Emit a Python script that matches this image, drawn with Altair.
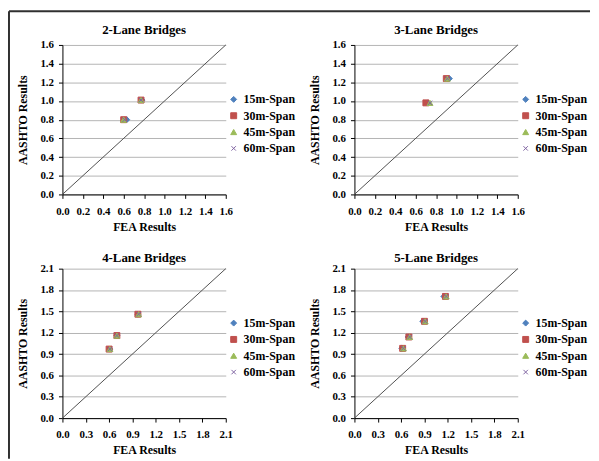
import altair as alt
import pandas as pd

series = ["15m-Span", "30m-Span", "45m-Span", "60m-Span"]
colors = ["#4F81BD", "#C0504D", "#9BBB59", "#8064A2"]
shapes = ["diamond", "square", "triangle-up", "M-0.75,-0.75L0.75,0.75M0.75,-0.75L-0.75,0.75"]

titles = ["2-Lane Bridges", "3-Lane Bridges", "4-Lane Bridges", "5-Lane Bridges"]

ticks_small = [0.0, 0.2, 0.4, 0.6, 0.8, 1.0, 1.2, 1.4, 1.6]
ticks_large = [0.0, 0.3, 0.6, 0.9, 1.2, 1.5, 1.8, 2.1]

# FEA (x) and AASHTO (y) results, per span series
fea_2lane = [[0.63, 0.78], [0.60, 0.77], [0.60, 0.77], [0.61, 0.77]]
aashto_2lane = [[0.80, 1.01], [0.80, 1.01], [0.80, 1.01], [0.80, 1.01]]

fea_3lane = [[0.72, 0.93], [0.70, 0.90], [0.74, 0.91], [0.74, 0.91]]
aashto_3lane = [[0.98, 1.24], [0.98, 1.24], [0.98, 1.24], [0.98, 1.24]]

fea_4lane = [[0.61, 0.70, 0.97], [0.60, 0.70, 0.97], [0.61, 0.70, 0.98], [0.61, 0.70, 0.98]]
aashto_4lane = [[0.97, 1.16, 1.46], [0.97, 1.16, 1.46], [0.97, 1.16, 1.46], [0.97, 1.16, 1.46]]

fea_5lane = [[0.61, 0.69, 0.88, 1.15], [0.62, 0.70, 0.90, 1.17], [0.63, 0.71, 0.91, 1.18], [0.63, 0.71, 0.91, 1.18]]
aashto_5lane = [[0.98, 1.14, 1.36, 1.71], [0.98, 1.14, 1.36, 1.71], [0.98, 1.14, 1.36, 1.71], [0.98, 1.14, 1.36, 1.71]]

FONT = "Liberation Serif"
W, H = 165, 151


def panel(title, fea, aashto, ticks, title_y, frame=False):
    rows = []
    for s, xs, ys in zip(series, fea, aashto):
        for x, y in zip(xs, ys):
            rows.append({"series": s, "fea": x, "aashto": y})
    df = pd.DataFrame(rows)
    maxv = ticks[-1]
    xs = alt.Scale(domain=[0, maxv], nice=False, zero=True)
    ys = alt.Scale(domain=[0, maxv], nice=False, zero=True)
    xaxis = alt.Axis(values=ticks, tickCount=len(ticks), labelOverlap=False, labelFlush=False,
                     format=".1f", grid=False, title="FEA Results", labelPadding=7, titlePadding=5)
    yaxis = alt.Axis(values=ticks, tickCount=len(ticks), labelOverlap=False, labelFlush=False,
                     format=".1f", grid=True, title="AASHTO Results", labelPadding=5, titlePadding=11)
    diag = alt.Chart(pd.DataFrame({"x": [0, maxv], "y": [0, maxv]})).mark_line(
        color="#505050", strokeWidth=1
    ).encode(
        x=alt.X("x:Q", scale=xs, axis=xaxis),
        y=alt.Y("y:Q", scale=ys, axis=yaxis),
    )
    leg = alt.Legend(title=None, orient="none", legendX=W + 2, legendY=49,
                     labelFont=FONT, labelFontWeight="bold", labelFontSize=12,
                     labelColor="black", symbolSize=36, rowPadding=4.5,
                     labelOffset=4, symbolStrokeWidth=1)
    pts = alt.Chart(df).mark_point(size=36, opacity=1, strokeWidth=1).encode(
        x=alt.X("fea:Q", scale=xs),
        y=alt.Y("aashto:Q", scale=ys),
        fill=alt.Fill("series:N", scale=alt.Scale(domain=series, range=colors), legend=leg),
        stroke=alt.Stroke("series:N", scale=alt.Scale(domain=series, range=colors), legend=leg),
        shape=alt.Shape("series:N", scale=alt.Scale(domain=series, range=shapes), legend=leg),
    )
    one = pd.DataFrame({"k": [0]})
    ttl = alt.Chart(one).mark_text(
        font=FONT, fontSize=13, fontWeight="bold", color="black", baseline="middle", align="center"
    ).encode(x=alt.value(W / 2), y=alt.value(title_y), text=alt.value(title))
    layers = [diag, pts, ttl]
    if frame:
        left = alt.Chart(one).mark_rule(color="#303030", strokeWidth=2).encode(
            x=alt.value(-54), y=alt.value(-34), y2=alt.value(418))
        top = alt.Chart(one).mark_rule(color="#303030", strokeWidth=2).encode(
            x=alt.value(-54), x2=alt.value(533), y=alt.value(-34))
        layers += [left, top]
    return alt.layer(*layers).properties(width=W, height=H).resolve_scale(
        fill="independent", stroke="independent", shape="independent")


p1 = panel(titles[0], fea_2lane, aashto_2lane, ticks_small, -15, frame=True)
p2 = panel(titles[1], fea_3lane, aashto_3lane, ticks_small, -15)
p3 = panel(titles[2], fea_4lane, aashto_4lane, ticks_large, -11)
p4 = panel(titles[3], fea_5lane, aashto_5lane, ticks_large, -11)

res = dict(fill="independent", stroke="independent", shape="independent",
           x="independent", y="independent")

chart = alt.concat(
    p1, p2, p3, p4, columns=2, bounds="flush", spacing={"row": 75, "column": 130}
).resolve_scale(**res).resolve_legend(
    fill="independent", stroke="independent", shape="independent"
).properties(padding={"left": 0, "top": 0, "right": 0, "bottom": 0}).configure_view(
    stroke=None
).configure_axis(
    domainColor="black", tickColor="black", tickSize=4, domainWidth=1,
    labelFont=FONT, labelFontWeight="bold", labelFontSize=11, labelColor="black",
    titleFont=FONT, titleFontWeight="bold", titleFontSize=12, titleColor="black",
    gridColor="#b4b4b4", gridWidth=1,
)

chart.save("out.html", embed_options={"renderer": "svg", "actions": False})
